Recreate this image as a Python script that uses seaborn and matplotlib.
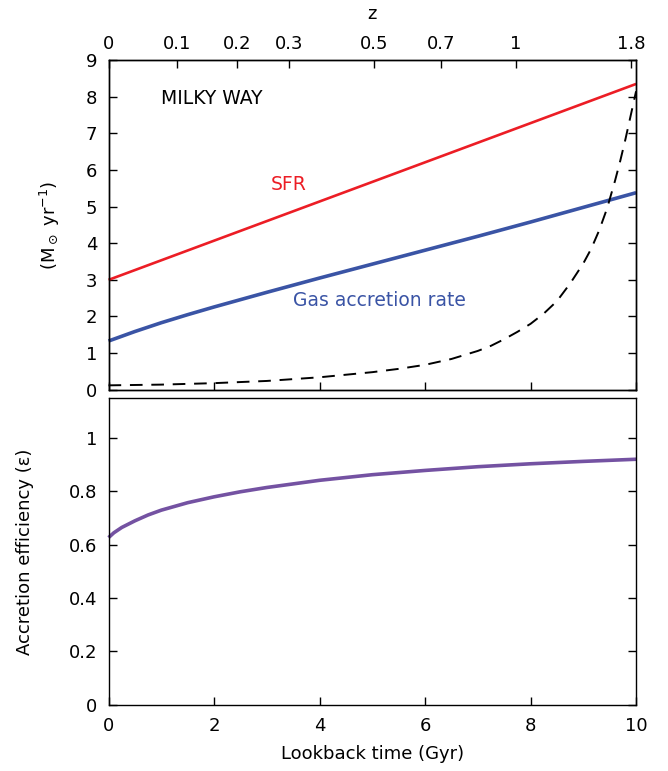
import numpy as np
import pandas as pd
import matplotlib
matplotlib.use("Agg")
import matplotlib.pyplot as plt
import seaborn as sns

# --- data -------------------------------------------------------------
t_lin = [0, 10]                       # lookback time (Gyr)
sfr = [3.0, 8.35]                     # star formation rate (Msun/yr)

t_acc = [0, 0.5, 1, 1.5, 2, 3, 4, 5, 6, 7, 8, 9, 10]
gas_accretion = [1.33, 1.59, 1.83, 2.05, 2.26, 2.66, 3.05, 3.43, 3.81,
                 4.19, 4.58, 4.98, 5.38]

t_dash = [0, 1, 2, 3, 4, 5, 5.5, 6, 6.5, 7, 7.25, 7.5, 7.75, 8, 8.25, 8.5,
          8.75, 9, 9.15, 9.3, 9.45, 9.6, 9.7, 9.8, 9.9, 10]
dashed = [0.12, 0.14, 0.18, 0.24, 0.34, 0.48, 0.57, 0.68, 0.84, 1.06, 1.20,
          1.38, 1.58, 1.80, 2.08, 2.42, 2.90, 3.45, 3.85, 4.35, 4.95, 5.70,
          6.25, 6.85, 7.50, 8.15]

t_eff = [0, 0.1, 0.25, 0.5, 0.75, 1, 1.5, 2, 2.5, 3, 4, 5, 6, 7, 8, 9, 10]
efficiency = [0.627, 0.645, 0.665, 0.690, 0.712, 0.730, 0.758, 0.780, 0.799,
              0.815, 0.842, 0.863, 0.879, 0.893, 0.904, 0.913, 0.921]

z_ticks = [0, 0.1, 0.2, 0.3, 0.5, 0.7, 1, 1.8]
z_labels = ["0", "0.1", "0.2", "0.3", "0.5", "0.7", "1", "1.8"]


def lookback_time(z, h0=70.0, om=0.3):
    """Lookback time in Gyr for a flat LCDM cosmology."""
    if z <= 0:
        return 0.0
    zz = np.linspace(0, z, 2001)
    ez = np.sqrt(om * (1 + zz) ** 3 + (1 - om))
    integrand = 1.0 / ((1 + zz) * ez)
    th = 977.8 / h0  # Hubble time in Gyr
    return th * np.trapezoid(integrand, zz)


# --- style ------------------------------------------------------------
sns.set_theme(style="ticks")
plt.rcParams["font.family"] = ["DejaVu Sans"]
plt.rcParams["mathtext.fontset"] = "dejavusans"
plt.rcParams.update({
    "axes.linewidth": 1.0,
    "axes.edgecolor": "black",
    "axes.labelcolor": "black",
    "text.color": "black",
    "xtick.color": "black",
    "ytick.color": "black",
})

RED = "#EC1D25"
BLUE = "#3A54A5"
PURPLE = "#7452A2"
FS = 13

fig = plt.figure(figsize=(6.68, 7.71), dpi=100)
ax1 = fig.add_axes([0.1625, 0.4945, 0.7897, 0.4275])
ax2 = fig.add_axes([0.1625, 0.0860, 0.7897, 0.3975])

df_sfr = pd.DataFrame({"t": t_lin, "v": sfr})
df_acc = pd.DataFrame({"t": t_acc, "v": gas_accretion})
df_dash = pd.DataFrame({"t": t_dash, "v": dashed})
df_eff = pd.DataFrame({"t": t_eff, "v": efficiency})

sns.lineplot(data=df_sfr, x="t", y="v", ax=ax1, color=RED, lw=1.9)
sns.lineplot(data=df_acc, x="t", y="v", ax=ax1, color=BLUE, lw=2.6)
sns.lineplot(data=df_dash, x="t", y="v", ax=ax1, color="black", lw=1.4)
ax1.lines[-1].set_dashes((6.5, 4.5))
sns.lineplot(data=df_eff, x="t", y="v", ax=ax2, color=PURPLE, lw=2.6)

for l in ax1.lines + ax2.lines:
    l.set_clip_on(False)
    l.set_solid_capstyle("butt")

# --- top panel --------------------------------------------------------
ax1.set_xlim(0, 10)
ax1.set_ylim(0, 9)
ax1.set_yticks(range(0, 10))
ax1.set_xticks(range(0, 11, 2))
ax1.tick_params(axis="both", direction="in", length=6, width=1.0,
                labelsize=FS, top=False, right=True, bottom=True,
                labelbottom=False, pad=8)
ax1.set_xlabel("")
ax1.set_ylabel(r"(M$_\odot$ yr$^{-1}$)", fontsize=FS)
ax1.yaxis.set_label_coords(-0.088, 0.5)

axz = ax1.twiny()
axz.set_xlim(ax1.get_xlim())
axz.set_xticks([lookback_time(z) for z in z_ticks])
axz.set_xticklabels(z_labels)
axz.tick_params(axis="x", direction="in", length=6, width=1.0,
                labelsize=FS, pad=5)
axz.set_xlabel("z", fontsize=FS, labelpad=12)

ax1.text(1.0, 7.95, "MILKY WAY", fontsize=FS + 0.5, va="center", ha="left",
         color="black")
ax1.text(3.42, 5.6, "SFR", fontsize=FS + 0.5, va="center", ha="center",
         color=RED)
ax1.text(3.5, 2.45, "Gas accretion rate", fontsize=FS + 0.5, va="center",
         ha="left", color=BLUE)

# --- bottom panel -----------------------------------------------------
ax2.set_xlim(0, 10)
ax2.set_ylim(0, 1.15)
ax2.set_xticks(range(0, 11, 2))
ax2.set_yticks([0, 0.2, 0.4, 0.6, 0.8, 1.0])
ax2.set_yticklabels(["0", "0.2", "0.4", "0.6", "0.8", "1"])
ax2.tick_params(axis="both", direction="in", length=6, width=1.0,
                labelsize=FS, top=False, right=True, pad=8)
ax2.tick_params(axis="x", pad=9)
ax2.set_xlabel("Lookback time (Gyr)", fontsize=FS, labelpad=7)
ax2.set_ylabel("Accretion efficiency (ε)", fontsize=FS)
ax2.yaxis.set_label_coords(-0.141, 0.5)

fig.savefig("out.png", dpi=100)
